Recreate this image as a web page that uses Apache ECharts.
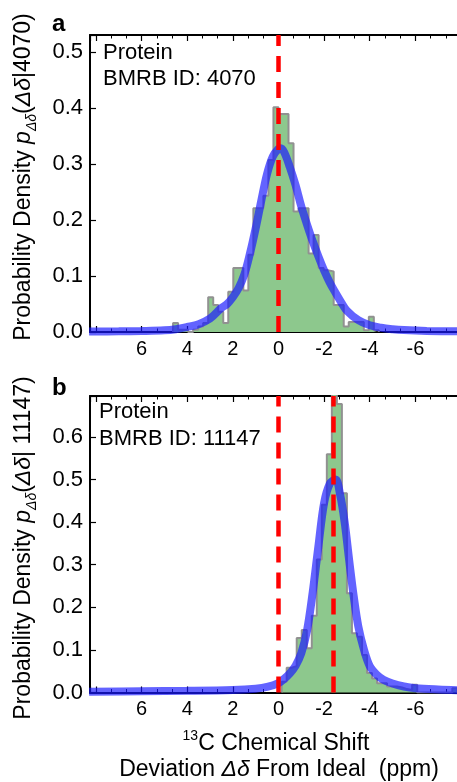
<!DOCTYPE html>
<html><head><meta charset="utf-8">
<script src="https://cdn.jsdelivr.net/npm/echarts@6/dist/echarts.min.js"></script>
<style>html,body{margin:0;padding:0;background:#fff}#c{width:457px;height:782px}</style>
</head><body><div id="c"></div>
<script>
// ---------- Panel a: BMRB 4070 ----------
const binEdgesA = [4.62, 4.40, 4.18, 3.96, 3.74, 3.52, 3.30, 3.08, 2.86, 2.64, 2.42, 2.20, 1.98, 1.76, 1.54, 1.32, 1.10, 0.88, 0.66, 0.44, 0.22, 0.00,
  -0.22, -0.44, -0.66, -0.88, -1.10, -1.32, -1.54, -1.76, -1.98, -2.20, -2.42, -2.64, -2.86, -3.08, -3.30, -3.52, -3.74, -3.96, -4.18, -4.40];
const densityA = [0.016, 0.004, 0.004, 0.000, 0.004, 0.010, 0.016, 0.062, 0.048, 0.036, 0.016, 0.072, 0.114, 0.114, 0.074, 0.138, 0.221, 0.221, 0.243, 0.307, 0.401,
  0.389, 0.389, 0.337, 0.215, 0.221, 0.221, 0.140, 0.173, 0.114, 0.110, 0.108, 0.048, 0.048, 0.010, 0.018, 0.018, 0.018, 0.003, 0.027, 0.003];
const fitXA = [8.3, 7, 6, 5, 4.5, 4, 3.5, 3, 2.5, 2.25, 2, 1.75, 1.5, 1.25, 1, 0.75, 0.5, 0.25, 0, -0.1, -0.25, -0.5, -0.75, -1, -1.25, -1.5, -1.75, -2, -2.25, -2.5, -2.75, -3, -3.5, -4, -4.5, -5, -5.5, -6.5, -8.1];
const fitYA = [0.0008, 0.0012, 0.0018, 0.003, 0.005, 0.009, 0.014, 0.024, 0.043, 0.05, 0.062, 0.078, 0.102, 0.14, 0.185, 0.235, 0.282, 0.313, 0.327, 0.328, 0.321, 0.294, 0.262, 0.224, 0.192, 0.162, 0.135, 0.11, 0.088, 0.07, 0.053, 0.038, 0.021, 0.012, 0.0075, 0.005, 0.0035, 0.002, 0.001];
const refLinesA = [0];
const idA = '4070';

// ---------- Panel b: BMRB 11147 ----------
const binEdgesB = [-0.14, -0.36, -0.58, -0.80, -1.02, -1.24, -1.46, -1.68, -1.90, -2.12, -2.34, -2.56, -2.78, -3.00, -3.22, -3.44, -3.66, -3.88, -4.10,
  -4.32, -4.54, -4.76, -4.98, -5.20, -5.42, -5.64, -5.86, -6.08, -7.62, -7.84];
const densityB = [0.025, 0.058, 0.062, 0.128, 0.147, 0.104, 0.180, 0.312, 0.441, 0.559, 0.720, 0.677, 0.468, 0.233, 0.139, 0.131, 0.088, 0.046, 0.033,
  0.022, 0.022, 0.014, 0.014, 0.012, 0.008, 0.006, 0.018, 0.000, 0.010];
const fitXB = [8.3, 6, 4, 2, 1, 0.5, 0, -0.25, -0.5, -0.75, -1, -1.25, -1.5, -1.75, -2, -2.25, -2.5, -2.7, -2.9, -3.1, -3.3, -3.5, -3.75, -4, -4.3, -4.6, -5, -5.5, -6, -7, -8.1];
const fitYB = [0.002, 0.003, 0.004, 0.006, 0.009, 0.013, 0.022, 0.032, 0.045, 0.063, 0.092, 0.145, 0.235, 0.343, 0.445, 0.49, 0.50, 0.465, 0.40, 0.31, 0.225, 0.155, 0.10, 0.062, 0.042, 0.03, 0.021, 0.014, 0.01, 0.007, 0.005];
const refLinesB = [0, -2.42];
const idB = '11147';

const xTickLabels = [6, 4, 2, 0, -2, -4, -6];
const yMaxA = 0.53, yMaxB = 0.696;

const FONT = 'Liberation Sans, Arial, sans-serif';

function stepData(edges, dens) {
  const d = [[edges[0], 0]];
  for (let i = 0; i < dens.length; i++) d.push([edges[i], dens[i]]);
  d.push([edges[edges.length - 1], dens[dens.length - 1]]);
  d.push([edges[edges.length - 1], 0]);
  return d;
}
function pairs(xs, ys) { return xs.map((x, i) => [x, ys[i]]); }

function xAxisDef(gi, pos) {
  return {
    type: 'value', gridIndex: gi, position: pos, min: -8, max: 8.26, interval: 2, inverse: true,
    axisLine: { show: true, onZero: false, lineStyle: { color: '#000', width: 2 } },
    axisTick: { show: true, inside: true, length: 6, lineStyle: { color: '#000', width: 1.2 } },
    minorTick: { show: true, splitNumber: 3, length: 3.5, lineStyle: { color: '#000', width: 1 } },
    splitLine: { show: false }, minorSplitLine: { show: false },
    axisLabel: {
      show: pos === 'bottom', margin: 7, fontSize: 20, color: '#000', fontFamily: FONT,
      formatter: v => xTickLabels.some(t => Math.abs(t - v) < 1e-6) ? String(Math.round(v)) : ''
    }
  };
}
function yAxisDef(gi, ymax) {
  return {
    type: 'value', gridIndex: gi, min: 0, max: ymax, interval: 0.1,
    axisLine: { show: true, onZero: false, lineStyle: { color: '#000', width: 2 } },
    axisTick: { show: true, inside: true, length: 6, lineStyle: { color: '#000', width: 1.2 } },
    splitLine: { show: false },
    axisLabel: {
      margin: 7, fontSize: 22, color: '#000', fontFamily: FONT,
      formatter: v => Math.abs(v * 10 - Math.round(v * 10)) < 1e-6 ? v.toFixed(1) : ''
    }
  };
}
function panelSeries(gi, edges, dens, fx, fy, refs) {
  return [
    { type: 'line', xAxisIndex: gi * 2, yAxisIndex: gi, step: 'end', symbol: 'none', data: stepData(edges, dens),
      lineStyle: { color: '#919191', width: 2 }, areaStyle: { color: '#8dc88d', opacity: 1 }, z: 2 },
    { type: 'line', xAxisIndex: gi * 2, yAxisIndex: gi, smooth: 0.35, symbol: 'none', data: pairs(fx, fy),
      lineStyle: { color: 'rgba(25,25,255,0.68)', width: 8 }, z: 3 },
    { type: 'line', xAxisIndex: gi * 2, yAxisIndex: gi, data: [], symbol: 'none', z: 4,
      markLine: { silent: true, symbol: ['none', 'none'], label: { show: false }, animation: false,
        lineStyle: { color: '#ff0000', width: 4.5, type: [16, 10], opacity: 1 },
        data: refs.map(v => ({ xAxis: v })) } }
  ];
}

const richBase = {
  n: { fontSize: 23, fontFamily: FONT, lineHeight: 30, fill: '#000' },
  i: { fontSize: 23, fontFamily: FONT, fontStyle: 'italic', lineHeight: 30, fill: '#000' },
  s: { fontSize: 14, fontFamily: FONT, fontStyle: 'italic', verticalAlign: 'bottom', lineHeight: 16, fill: '#000' },
  sup: { fontSize: 14, fontFamily: FONT, verticalAlign: 'top', lineHeight: 18, fill: '#000' }
};
function txt(x, y, text, size, opts) {
  return Object.assign({ type: 'text', x: x, y: y, silent: true,
    style: Object.assign({ text: text, fontSize: size, fontFamily: FONT, fill: '#000', align: 'left', verticalAlign: 'middle' }, opts || {}) });
}
function richTxt(x, y, text, rot) {
  return { type: 'text', x: x, y: y, rotation: rot || 0, silent: true,
    style: { text: text, rich: richBase, fontSize: 23, fontFamily: FONT, fill: '#000', align: 'center', verticalAlign: 'middle' } };
}

const chart = echarts.init(document.getElementById('c'), null, { renderer: 'canvas' });
chart.setOption({
  animation: false,
  backgroundColor: '#fff',
  grid: [
    { left: 90, top: 35, width: 371, height: 297, outerBoundsMode: 'none', containLabel: false },
    { left: 90, top: 396, width: 371, height: 296.5, outerBoundsMode: 'none', containLabel: false }
  ],
  xAxis: [xAxisDef(0, 'bottom'), xAxisDef(0, 'top'), xAxisDef(1, 'bottom'), xAxisDef(1, 'top')],
  yAxis: [yAxisDef(0, yMaxA), yAxisDef(1, yMaxB)],
  series: [].concat(
    panelSeries(0, binEdgesA, densityA, fitXA, fitYA, refLinesA),
    panelSeries(1, binEdgesB, densityB, fitXB, fitYB, refLinesB)
  ),
  graphic: [
    txt(52, 24, 'a', 24, { fontWeight: 'bold' }),
    txt(52, 388, 'b', 24, { fontWeight: 'bold' }),
    txt(103, 52.7, 'Protein', 22),
    txt(103, 79.4, 'BMRB ID: ' + idA, 22),
    txt(99, 412, 'Protein', 22),
    txt(99, 439.4, 'BMRB ID: ' + idB, 22),
    richTxt(24, 177, '{n|Probability Density }{i|p}{s|Δδ}{n|(}{i|Δδ}{n||' + idA + ')}', Math.PI / 2),
    richTxt(24, 548, '{n|Probability Density }{i|p}{s|Δδ}{n|(}{i|Δδ}{n|| ' + idB + ')}', Math.PI / 2),
    richTxt(276, 744, '{sup|13}{n|C Chemical Shift}'),
    richTxt(279, 770, '{n|Deviation }{i|Δδ}{n| From Ideal  (ppm)}')
  ]
});
</script>
</body></html>
